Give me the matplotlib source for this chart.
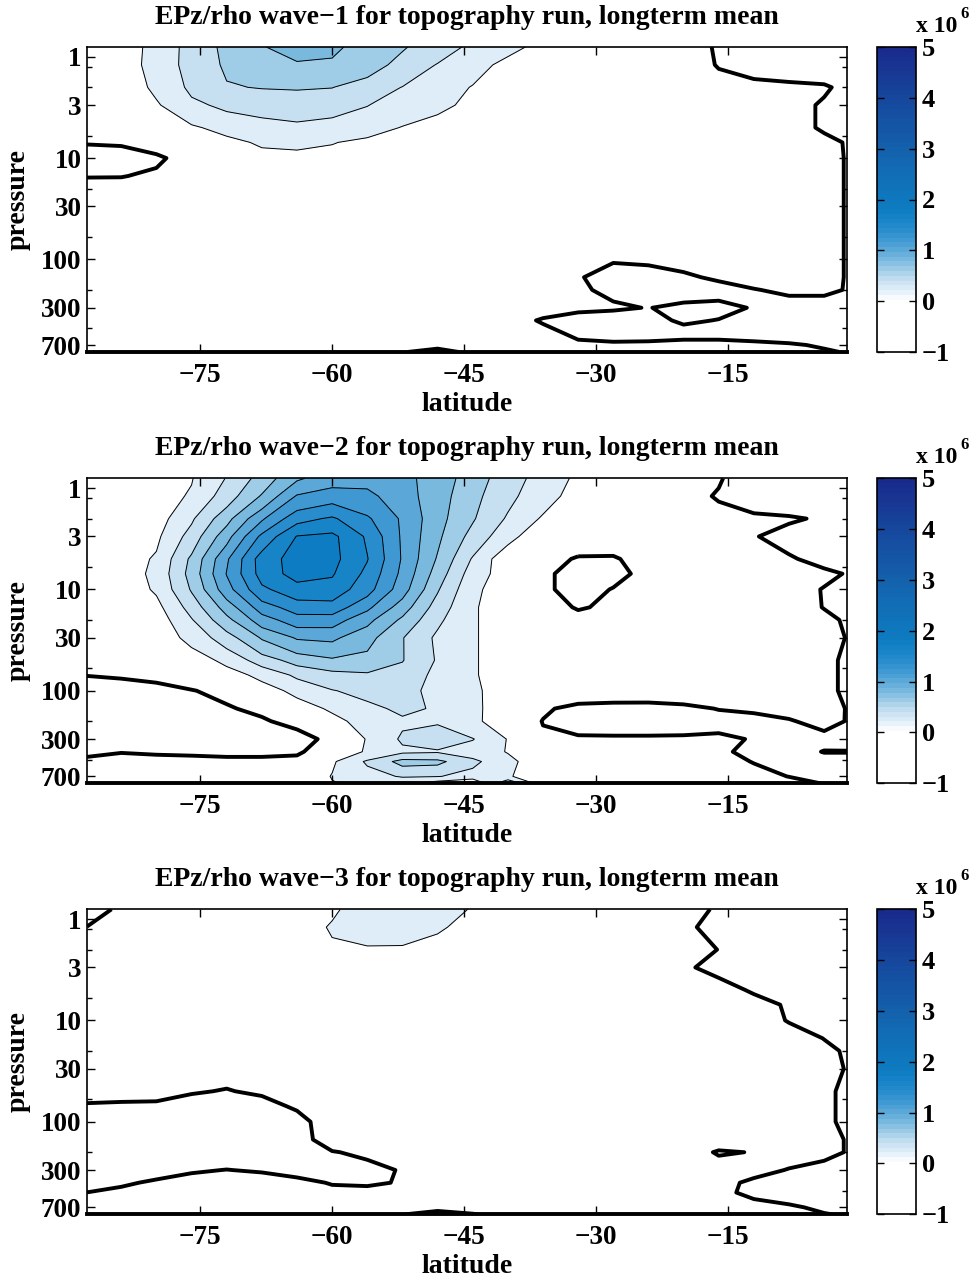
import numpy as np
import matplotlib
matplotlib.use("Agg")
import matplotlib.pyplot as plt
from matplotlib.colors import LinearSegmentedColormap, Normalize
from matplotlib.ticker import FixedLocator, NullFormatter
from matplotlib.cm import ScalarMappable

plt.rcParams['font.family'] = ['Liberation Serif', 'DejaVu Serif']
plt.rcParams['font.weight'] = 'bold'
plt.rcParams['axes.labelweight'] = 'bold'
plt.rcParams['font.size'] = 19
plt.rcParams['axes.unicode_minus'] = True

# ---------------- data (EPz/rho, units of 1e6) ----------------
LATITUDE = [-87.9, -84, -80, -76, -72, -68, -64, -60, -56, -52, -48, -44,
            -40, -36, -32, -28, -24, -20, -16, -12, -8, -4, -1.4]
PRESSURE = [0.8, 1.2, 2, 3, 5, 7, 10, 15, 20, 30, 50, 70, 100, 150, 200,
            300, 400, 500, 700, 820]

WAVE1 = [
    [0.08, 0.09, 0.27, 0.47, 0.65, 0.79, 0.87, 0.84, 0.72, 0.62, 0.49, 0.36, 0.25, 0.15, 0.10, 0.08, 0.06, 0.04, -0.01, -0.05, -0.06, -0.06, -0.05],
    [0.08, 0.092, 0.28, 0.47, 0.63, 0.72, 0.78, 0.77, 0.70, 0.53, 0.39, 0.27, 0.148, 0.10, 0.08, 0.07, 0.06, 0.04, -0.005, -0.04, -0.05, -0.05, -0.05],
    [0.07, 0.08, 0.24, 0.44, 0.585, 0.61, 0.62, 0.605, 0.50, 0.395, 0.29, 0.19, 0.12, 0.09, 0.07, 0.06, 0.05, 0.04, 0.03, 0.03, 0.02, 0.01, -0.02],
    [0.06, 0.07, 0.177, 0.36, 0.44, 0.46, 0.47, 0.45, 0.405, 0.32, 0.24, 0.16, 0.11, 0.08, 0.07, 0.06, 0.05, 0.05, 0.04, 0.04, 0.03, -0.01, -0.03],
    [0.03, 0.03, 0.08, 0.17, 0.27, 0.34, 0.37, 0.35, 0.29, 0.19, 0.13, 0.10, 0.08, 0.07, 0.06, 0.06, 0.05, 0.05, 0.04, 0.04, 0.03, -0.01, -0.03],
    [0.01, 0.02, 0.05, 0.09, 0.14, 0.23, 0.24, 0.21, 0.15, 0.11, 0.09, 0.08, 0.07, 0.06, 0.06, 0.05, 0.05, 0.05, 0.04, 0.04, 0.04, 0.02, -0.005],
    [-0.08, -0.08, -0.02, 0.05, 0.09, 0.13, 0.15, 0.13, 0.11, 0.09, 0.08, 0.07, 0.06, 0.06, 0.05, 0.05, 0.05, 0.05, 0.04, 0.04, 0.04, 0.03, -0.005],
    [-0.005, -0.005, 0.02, 0.05, 0.07, 0.09, 0.10, 0.09, 0.08, 0.07, 0.06, 0.06, 0.05, 0.05, 0.05, 0.05, 0.05, 0.04, 0.04, 0.04, 0.04, 0.03, -0.005],
    [0.04, 0.05, 0.06, 0.06, 0.07, 0.08, 0.08, 0.08, 0.07, 0.06, 0.06, 0.05, 0.05, 0.05, 0.05, 0.05, 0.04, 0.04, 0.04, 0.04, 0.04, 0.03, -0.005],
    [0.05, 0.05, 0.06, 0.06, 0.06, 0.07, 0.07, 0.07, 0.06, 0.06, 0.05, 0.05, 0.05, 0.05, 0.05, 0.05, 0.04, 0.04, 0.04, 0.04, 0.04, 0.03, -0.005],
    [0.05, 0.05, 0.05, 0.06, 0.06, 0.06, 0.06, 0.06, 0.06, 0.05, 0.05, 0.05, 0.05, 0.05, 0.05, 0.05, 0.04, 0.04, 0.04, 0.04, 0.04, 0.03, -0.005],
    [0.05, 0.05, 0.05, 0.05, 0.05, 0.05, 0.05, 0.05, 0.05, 0.05, 0.05, 0.05, 0.05, 0.05, 0.05, 0.05, 0.04, 0.04, 0.04, 0.04, 0.04, 0.03, -0.005],
    [0.05, 0.05, 0.05, 0.05, 0.05, 0.05, 0.05, 0.05, 0.05, 0.05, 0.05, 0.05, 0.05, 0.04, 0.03, 0.01, 0.02, 0.04, 0.04, 0.04, 0.04, 0.03, -0.005],
    [0.05, 0.05, 0.05, 0.05, 0.05, 0.05, 0.05, 0.05, 0.05, 0.05, 0.05, 0.05, 0.05, 0.04, 0.01, -0.05, -0.05, -0.02, 0.02, 0.04, 0.04, 0.03, -0.005],
    [0.05, 0.05, 0.05, 0.05, 0.05, 0.05, 0.05, 0.05, 0.05, 0.05, 0.05, 0.05, 0.05, 0.04, 0.02, -0.03, -0.08, -0.08, -0.05, -0.005, 0.02, 0.02, -0.005],
    [0.05, 0.05, 0.05, 0.05, 0.05, 0.05, 0.05, 0.05, 0.05, 0.05, 0.05, 0.05, 0.05, 0.04, 0.03, 0.02, -0.005, 0.04, 0.04, -0.01, -0.05, -0.05, -0.05],
    [0.05, 0.05, 0.05, 0.05, 0.05, 0.05, 0.05, 0.05, 0.05, 0.05, 0.05, 0.05, 0.04, -0.01, -0.06, -0.08, -0.04, 0.02, -0.005, -0.05, -0.06, -0.06, -0.05],
    [0.05, 0.05, 0.05, 0.05, 0.05, 0.05, 0.05, 0.05, 0.05, 0.05, 0.05, 0.05, 0.04, 0.02, -0.03, -0.06, -0.05, -0.03, -0.03, -0.05, -0.06, -0.06, -0.05],
    [0.04, 0.04, 0.04, 0.04, 0.04, 0.04, 0.04, 0.04, 0.04, 0.03, 0.03, 0.03, 0.03, 0.03, 0.02, 0.02, 0.02, 0.02, 0.02, 0.02, 0.01, -0.01, -0.03],
    [0.04, 0.04, 0.04, 0.04, 0.04, 0.04, 0.04, 0.04, 0.04, 0.005, -0.03, 0.02, 0.03, 0.03, 0.03, 0.03, 0.03, 0.03, 0.03, 0.03, 0.03, 0.01, -0.005],
]

WAVE2 = [
    [0.08, 0.10, 0.13, 0.19, 0.41, 0.68, 0.97, 1.10, 1.14, 1.06, 0.91, 0.70, 0.49, 0.32, 0.16, 0.10, 0.08, 0.06, 0.01, -0.07, -0.08, -0.08, -0.06],
    [0.08, 0.10, 0.12, 0.22, 0.50, 0.82, 1.22, 1.31, 1.25, 1.09, 0.89, 0.66, 0.45, 0.28, 0.12, 0.09, 0.07, 0.04, -0.01, -0.05, -0.06, -0.05, -0.04],
    [0.07, 0.09, 0.11, 0.37, 0.73, 1.17, 1.53, 1.63, 1.43, 1.17, 0.87, 0.62, 0.375, 0.175, 0.10, 0.08, 0.06, 0.05, 0.04, 0.02, 0.01, -0.01, -0.03],
    [0.07, 0.08, 0.16, 0.48, 0.925, 1.45, 1.81, 1.85, 1.57, 1.17, 0.84, 0.53, 0.27, 0.05, 0.06, 0.05, 0.05, 0.04, 0.03, 0.005, -0.03, -0.05, -0.05],
    [0.07, 0.09, 0.226, 0.64, 1.17, 1.70, 1.88, 1.86, 1.61, 1.18, 0.78, 0.38, 0.05, 0.04, -0.01, -0.01, 0.04, 0.05, 0.04, 0.03, 0.01, -0.03, -0.05],
    [0.07, 0.09, 0.25, 0.675, 1.21, 1.68, 1.88, 1.82, 1.55, 1.15, 0.71, 0.30, 0.10, 0.02, -0.04, -0.03, 0.03, 0.05, 0.05, 0.05, 0.04, 0.02, -0.005],
    [0.06, 0.08, 0.226, 0.62, 1.12, 1.56, 1.72, 1.72, 1.48, 1.09, 0.62, 0.24, 0.10, 0.02, -0.04, 0.005, 0.04, 0.05, 0.05, 0.05, 0.04, -0.005, -0.02],
    [0.06, 0.08, 0.14, 0.48, 0.89, 1.30, 1.50, 1.52, 1.25, 0.90, 0.51, 0.22, 0.10, 0.05, -0.01, 0.02, 0.04, 0.05, 0.05, 0.05, 0.04, -0.003, -0.02],
    [0.06, 0.07, 0.09, 0.385, 0.74, 1.11, 1.31, 1.30, 1.06, 0.76, 0.44, 0.22, 0.10, 0.06, 0.04, 0.05, 0.05, 0.05, 0.05, 0.05, 0.04, 0.02, -0.01],
    [0.05, 0.06, 0.08, 0.26, 0.51, 0.82, 1.02, 1.04, 0.87, 0.61, 0.36, 0.22, 0.10, 0.07, 0.06, 0.06, 0.06, 0.06, 0.06, 0.06, 0.05, 0.05, -0.005],
    [0.05, 0.06, 0.07, 0.10, 0.25, 0.50, 0.68, 0.77, 0.74, 0.61, 0.38, 0.22, 0.10, 0.07, 0.06, 0.06, 0.06, 0.06, 0.06, 0.05, 0.04, 0.03, -0.02],
    [0.005, 0.02, 0.04, 0.06, 0.12, 0.25, 0.44, 0.53, 0.57, 0.52, 0.35, 0.22, 0.10, 0.08, 0.07, 0.07, 0.07, 0.07, 0.06, 0.05, 0.04, 0.03, -0.02],
    [-0.10, -0.08, -0.05, -0.005, 0.03, 0.117, 0.25, 0.39, 0.46, 0.46, 0.345, 0.23, 0.12, 0.10, 0.09, 0.083, 0.08, 0.08, 0.07, 0.06, 0.05, 0.03, -0.02],
    [-0.15, -0.15, -0.12, -0.10, -0.012, 0.03, 0.11, 0.23, 0.35, 0.44, 0.38, 0.24, 0.10, 0.02, -0.04, -0.05, -0.05, -0.03, 0.005, 0.02, 0.04, 0.05, -0.005],
    [-0.20, -0.20, -0.18, -0.15, -0.10, -0.018, 0.05, 0.14, 0.28, 0.37, 0.38, 0.23, 0.12, -0.005, -0.06, -0.07, -0.07, -0.06, -0.05, -0.04, -0.01, 0.04, -0.005],
    [-0.15, -0.15, -0.15, -0.14, -0.12, -0.10, -0.072, 0.05, 0.21, 0.43, 0.50, 0.41, 0.19, 0.02, 0.02, 0.02, 0.02, 0.02, 0.03, -0.01, -0.03, -0.04, -0.05],
    [-0.03, -0.005, -0.02, -0.03, -0.04, -0.04, -0.02, 0.08, 0.22, 0.36, 0.38, 0.30, 0.19, 0.05, 0.04, 0.04, 0.04, 0.04, 0.02, -0.03, -0.05, 0.005, 0.005],
    [0.03, 0.04, 0.05, 0.05, 0.04, 0.04, 0.037, 0.17, 0.43, 0.67, 0.65, 0.45, 0.25, 0.08, 0.05, 0.05, 0.05, 0.05, 0.04, -0.005, -0.04, -0.05, -0.05],
    [0.03, 0.04, 0.04, 0.04, 0.04, 0.04, 0.04, 0.21, 0.32, 0.42, 0.41, 0.33, 0.22, 0.08, 0.05, 0.05, 0.05, 0.05, 0.05, 0.04, -0.003, -0.04, -0.05],
    [0.03, 0.04, 0.04, 0.04, 0.04, 0.04, 0.04, 0.19, 0.25, 0.25, 0.10, -0.02, 0.60, 0.05, 0.05, 0.05, 0.05, 0.05, 0.05, 0.04, 0.04, -0.005, -0.05],
]

WAVE3 = [
    [-0.05, 0.02, 0.04, 0.05, 0.06, 0.08, 0.10, 0.17, 0.30, 0.30, 0.26, 0.19, 0.14, 0.10, 0.08, 0.07, 0.06, 0.03, -0.01, -0.04, -0.05, -0.05, -0.05],
    [0.002, 0.04, 0.05, 0.05, 0.06, 0.08, 0.10, 0.22, 0.28, 0.27, 0.22, 0.15, 0.12, 0.09, 0.08, 0.07, 0.05, 0.015, -0.025, -0.04, -0.05, -0.05, -0.05],
    [0.03, 0.04, 0.05, 0.05, 0.06, 0.07, 0.09, 0.17, 0.18, 0.18, 0.14, 0.11, 0.09, 0.08, 0.07, 0.06, 0.05, 0.04, -0.002, -0.03, -0.04, -0.05, -0.05],
    [0.04, 0.04, 0.05, 0.05, 0.05, 0.06, 0.07, 0.09, 0.10, 0.10, 0.09, 0.08, 0.07, 0.07, 0.06, 0.05, 0.04, 0.01, -0.02, -0.04, -0.05, -0.05, -0.05],
    [0.04, 0.04, 0.05, 0.05, 0.05, 0.05, 0.06, 0.06, 0.07, 0.07, 0.07, 0.06, 0.06, 0.06, 0.05, 0.05, 0.04, 0.04, 0.03, -0.01, -0.04, -0.05, -0.05],
    [0.04, 0.04, 0.05, 0.05, 0.05, 0.05, 0.05, 0.05, 0.06, 0.06, 0.06, 0.06, 0.05, 0.05, 0.05, 0.05, 0.04, 0.04, 0.04, 0.03, -0.01, -0.04, -0.05],
    [0.04, 0.04, 0.05, 0.05, 0.05, 0.05, 0.05, 0.05, 0.05, 0.05, 0.05, 0.05, 0.05, 0.05, 0.05, 0.05, 0.04, 0.04, 0.04, 0.04, -0.005, -0.04, -0.05],
    [0.04, 0.04, 0.04, 0.05, 0.05, 0.05, 0.05, 0.05, 0.05, 0.05, 0.05, 0.05, 0.05, 0.05, 0.05, 0.04, 0.04, 0.04, 0.04, 0.04, 0.04, -0.002, -0.03],
    [0.04, 0.04, 0.04, 0.04, 0.05, 0.05, 0.05, 0.05, 0.05, 0.05, 0.05, 0.05, 0.05, 0.05, 0.04, 0.04, 0.04, 0.04, 0.04, 0.04, 0.04, 0.02, -0.01],
    [0.03, 0.03, 0.03, 0.03, 0.03, 0.03, 0.04, 0.04, 0.05, 0.05, 0.05, 0.05, 0.05, 0.04, 0.04, 0.04, 0.04, 0.04, 0.04, 0.04, 0.04, 0.03, -0.005],
    [0.035, 0.022, 0.036, 0.008, -0.005, 0.016, 0.03, 0.05, 0.05, 0.05, 0.05, 0.05, 0.04, 0.04, 0.04, 0.04, 0.04, 0.04, 0.04, 0.04, 0.04, 0.02, -0.02],
    [-0.01, -0.01, -0.02, -0.04, -0.06, -0.04, 0.018, 0.06, 0.05, 0.05, 0.05, 0.05, 0.04, 0.04, 0.04, 0.04, 0.04, 0.04, 0.04, 0.04, 0.04, 0.02, -0.02],
    [-0.06, -0.07, -0.08, -0.09, -0.09, -0.08, -0.05, 0.08, 0.05, 0.05, 0.05, 0.04, 0.04, 0.04, 0.04, 0.04, 0.04, 0.04, 0.04, 0.04, 0.04, 0.02, -0.02],
    [-0.08, -0.10, -0.10, -0.10, -0.10, -0.09, -0.05, 0.06, 0.05, 0.05, 0.05, 0.04, 0.04, 0.04, 0.04, 0.04, 0.04, 0.04, 0.04, 0.04, 0.04, 0.03, -0.005],
    [-0.08, -0.08, -0.08, -0.07, -0.05, -0.06, -0.06, -0.007, 0.024, 0.04, 0.05, 0.04, 0.04, 0.04, 0.04, 0.04, 0.04, 0.04, -0.008, 0.003, 0.04, 0.03, -0.005],
    [-0.06, -0.05, -0.05, -0.01, 0.002, -0.01, -0.05, -0.04, -0.04, 0.01, 0.04, 0.04, 0.04, 0.04, 0.04, 0.04, 0.04, 0.04, 0.04, 0.03, -0.005, -0.04, -0.05],
    [-0.05, -0.02, 0.02, 0.035, 0.05, 0.05, 0.041, -0.01, -0.02, 0.01, 0.04, 0.04, 0.04, 0.04, 0.04, 0.04, 0.04, 0.04, 0.03, -0.02, -0.05, -0.05, -0.05],
    [0.001, 0.031, 0.04, 0.04, 0.04, 0.04, 0.04, 0.04, 0.0425, 0.04, 0.04, 0.04, 0.04, 0.04, 0.04, 0.04, 0.04, 0.04, 0.02, -0.02, -0.05, -0.05, -0.05],
    [0.04, 0.04, 0.04, 0.04, 0.04, 0.04, 0.04, 0.04, 0.04, 0.03, 0.03, 0.03, 0.04, 0.04, 0.04, 0.04, 0.04, 0.04, 0.04, 0.03, 0.015, -0.02, -0.04],
    [0.04, 0.04, 0.04, 0.04, 0.04, 0.04, 0.04, 0.04, 0.04, 0.003, -0.03, -0.003, 0.02, 0.03, 0.03, 0.03, 0.03, 0.03, 0.03, 0.03, 0.03, 0.005, -0.01],
]

TITLES = ["EPz/rho wave\u22121 for topography run, longterm mean",
          "EPz/rho wave\u22122 for topography run, longterm mean",
          "EPz/rho wave\u22123 for topography run, longterm mean"]
LAT_TICKS = [-75, -60, -45, -30, -15]
P_TICKS = [1, 3, 10, 30, 100, 300, 700]
P_MINOR_TICKS = [1.25, 2, 6, 20, 60, 200, 480]
CBAR_TICKS = [-1, 0, 1, 2, 3, 4, 5]
CLIM = (-1, 5)

# colour map: white below zero, then blues (value, RGB)
CMAP_STOPS = [(-1.0, (255, 255, 255)), (0.0, (255, 255, 255)),
              (0.2, (222, 237, 248)), (0.4, (198, 224, 242)),
              (0.6, (158, 204, 230)), (0.8, (120, 185, 222)),
              (1.0, (90, 168, 216)), (1.2, (62, 152, 210)),
              (1.4, (40, 140, 205)), (1.6, (24, 132, 200)),
              (1.8, (14, 124, 194)), (2.5, (17, 110, 182)),
              (3.0, (20, 97, 172)), (4.0, (22, 72, 157)),
              (5.0, (25, 42, 140))]

# ---------------- layout ----------------
W, H = 978, 1281
AX_LEFT, AX_W, AX_TOP0, AX_H = 87, 760, 47, 305
PANEL_OFFSETS = [0, 431.3, 862.3]
CB_LEFT, CB_W = 877, 39

fig = plt.figure(figsize=(W / 100, H / 100), dpi=100)
norm = Normalize(*CLIM)
stops = [((v - CLIM[0]) / (CLIM[1] - CLIM[0]), tuple(c / 255 for c in rgb))
         for v, rgb in CMAP_STOPS]
cmap_fine = LinearSegmentedColormap.from_list('epz', stops, N=512)
cmap_bar = LinearSegmentedColormap.from_list('epz64', stops, N=64)
levels = np.round(np.arange(0.2, 5.0001, 0.2), 2)
band_colors = [cmap_fine(norm(l)) for l in levels[:-1]]

for title, data, off in zip(TITLES, [WAVE1, WAVE2, WAVE3], PANEL_OFFSETS):
    top = AX_TOP0 + off
    bottom = 1 - (top + AX_H) / H
    ax = fig.add_axes([AX_LEFT / W, bottom, AX_W / W, AX_H / H])
    Z = np.array(data)
    ax.contourf(LATITUDE, PRESSURE, Z, levels=levels, colors=band_colors)
    ax.contour(LATITUDE, PRESSURE, Z, levels=levels, colors='k', linewidths=0.7)
    ax.contour(LATITUDE, PRESSURE, Z, levels=[0], colors='k', linewidths=2.8)
    ax.set_yscale('log')
    ax.set_xlim(LATITUDE[0], LATITUDE[-1])
    ax.set_ylim(PRESSURE[-1], PRESSURE[0])
    ax.set_xticks(LAT_TICKS)
    ax.set_xticklabels([f"{t}".replace('-', '\u2212') for t in LAT_TICKS])
    ax.set_yticks(P_TICKS)
    ax.set_yticklabels([str(p) for p in P_TICKS])
    ax.yaxis.set_minor_locator(FixedLocator(P_MINOR_TICKS))
    ax.yaxis.set_minor_formatter(NullFormatter())
    ax.xaxis.set_minor_locator(FixedLocator([]))
    ax.tick_params(which='both', direction='in', top=True, right=True)
    ax.tick_params(which='major', length=6, width=1.0)
    ax.tick_params(which='minor', length=3.5, width=1.0)
    ax.tick_params(axis='x', pad=8, labelsize=19.5)
    ax.tick_params(axis='y', pad=4, labelsize=19.5)
    for sp in ax.spines.values():
        sp.set_linewidth(1.2)
    ax.spines['bottom'].set_linewidth(2.8)
    ax.set_xlabel('latitude', fontsize=20)
    ax.xaxis.label.set_verticalalignment('center')
    ax.xaxis.set_label_coords(0.5, -52 / AX_H)
    ax.set_ylabel('pressure', fontsize=20)
    ax.yaxis.label.set_verticalalignment('center')
    ax.yaxis.set_label_coords(-69 / AX_W, 0.5)
    ax.text(0.5, 1 + 30 / AX_H, title, transform=ax.transAxes,
            ha='center', va='center', fontsize=20)

    cax = fig.add_axes([CB_LEFT / W, bottom, CB_W / W, AX_H / H])
    cb = fig.colorbar(ScalarMappable(norm=norm, cmap=cmap_bar), cax=cax,
                      ticks=CBAR_TICKS)
    cb.outline.set_linewidth(1.2)
    cax.tick_params(direction='in', left=True, right=True, length=5,
                    width=1.0, labelsize=19, pad=4)
    cax.set_yticklabels([f"{t}".replace('-', '\u2212') for t in CBAR_TICKS])
    fig.text(916 / W, 1 - (32 + off) / H, 'x 10', fontsize=17,
             ha='left', va='baseline')
    fig.text(960 / W, 1 - (18 + off) / H, '6', fontsize=12,
             ha='left', va='baseline')

fig.savefig('out.png', dpi=100)
